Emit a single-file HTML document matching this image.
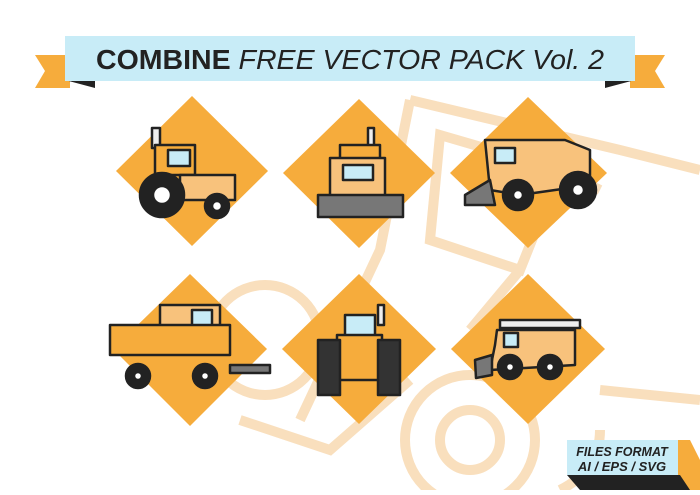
<!DOCTYPE html>
<html><head><style>
html,body{margin:0;padding:0;background:#fff;}
body{width:700px;height:490px;overflow:hidden;position:relative;font-family:"Liberation Sans",sans-serif;}
</style></head><body>
<svg width="700" height="490" viewBox="0 0 700 490" xmlns="http://www.w3.org/2000/svg">
<rect width="700" height="490" fill="#fff"/>
<g fill="none" stroke="#f9dfbd" stroke-width="10">
<path d="M410 100 L620 150 L700 170"/>
<path d="M410 100 L380 250 L300 420"/>
<path d="M440 135 L560 170 L520 270 L430 240 Z"/>
<path d="M560 170 L600 190"/>
<path d="M520 270 L470 330"/>
<path d="M240 420 L330 450 L410 380"/>
<path d="M600 390 L700 400"/>
<circle cx="265" cy="340" r="55"/>
<circle cx="470" cy="440" r="65"/>
<circle cx="470" cy="440" r="30"/>
<path d="M600 430 Q600 470 560 490"/>
</g>
<polygon points="35,55 70,55 70,88 35,88 45,71" fill="#f6ac3c"/>
<polygon points="665,55 630,55 630,88 665,88 655,71" fill="#f6ac3c"/>
<polygon points="65,80 95,80 95,88" fill="#222"/>
<polygon points="635,80 605,80 605,88" fill="#222"/>
<rect x="65" y="36" width="570" height="45" fill="#c8ecf7"/>
<text x="96" y="69" font-size="28" font-weight="bold" fill="#222" textLength="508" lengthAdjust="spacingAndGlyphs" font-family="Liberation Sans,sans-serif">COMBINE <tspan font-weight="normal" font-style="italic">FREE VECTOR PACK Vol. 2</tspan></text>
<g fill="#f6ac3c">
<polygon points="192,96 268,171 192,246 116,171"/>
<polygon points="359,99 435,173 359,248 283,173"/>
<polygon points="528,97 607,173 528,248 450,173"/>
<polygon points="190,274 267,349 190,426 113,349"/>
<polygon points="359,274 436,349 359,424 282,349"/>
<polygon points="528,274 605,349 528,424 451,349"/>
</g>
<g stroke="#222" stroke-width="2.5" stroke-linejoin="round">
<rect x="152" y="128" width="8" height="20" fill="#eee"/>
<rect x="155" y="145" width="40" height="30" fill="#f6ac3c"/>
<rect x="168" y="150" width="22" height="16" fill="#c8ecf7"/>
<rect x="180" y="175" width="55" height="25" fill="#f8c27c"/>
<circle cx="162" cy="195" r="22" fill="#222"/>
<circle cx="162" cy="195" r="9" fill="#fff"/>
<circle cx="217" cy="206" r="12" fill="#222"/>
<circle cx="217" cy="206" r="5" fill="#fff"/>
<rect x="368" y="128" width="6" height="20" fill="#eee"/>
<rect x="340" y="145" width="40" height="15" fill="#f6ac3c"/>
<rect x="330" y="158" width="55" height="40" fill="#f8c27c"/>
<rect x="343" y="165" width="30" height="15" fill="#c8ecf7"/>
<rect x="318" y="195" width="85" height="22" fill="#777"/>
<polygon points="485,140 565,140 590,150 590,185 520,195 490,190" fill="#f8c27c"/>
<rect x="495" y="148" width="20" height="15" fill="#c8ecf7"/>
<polygon points="465,195 490,180 495,205 465,205" fill="#777"/>
<circle cx="518" cy="195" r="15" fill="#222"/>
<circle cx="518" cy="195" r="5" fill="#fff"/>
<circle cx="578" cy="190" r="18" fill="#222"/>
<circle cx="578" cy="190" r="6" fill="#fff"/>
<rect x="160" y="305" width="60" height="35" fill="#f8c27c"/>
<rect x="192" y="310" width="20" height="18" fill="#c8ecf7"/>
<rect x="110" y="325" width="120" height="30" fill="#f6ac3c"/>
<rect x="230" y="365" width="40" height="8" fill="#777"/>
<circle cx="138" cy="376" r="12" fill="#222"/>
<circle cx="138" cy="376" r="4" fill="#fff"/>
<circle cx="205" cy="376" r="12" fill="#222"/>
<circle cx="205" cy="376" r="4" fill="#fff"/>
<rect x="378" y="305" width="6" height="20" fill="#eee"/>
<rect x="345" y="315" width="30" height="22" fill="#c8ecf7"/>
<rect x="337" y="335" width="45" height="45" fill="#f6ac3c"/>
<rect x="318" y="340" width="22" height="55" fill="#333"/>
<rect x="378" y="340" width="22" height="55" fill="#333"/>
<rect x="500" y="320" width="80" height="8" fill="#eee"/>
<polygon points="497,330 575,330 575,365 490,370 495,345" fill="#f8c27c"/>
<rect x="504" y="333" width="14" height="14" fill="#c8ecf7"/>
<polygon points="475,360 492,355 492,375 476,378" fill="#777"/>
<circle cx="510" cy="367" r="12" fill="#222"/>
<circle cx="510" cy="367" r="4" fill="#fff"/>
<circle cx="550" cy="367" r="12" fill="#222"/>
<circle cx="550" cy="367" r="4" fill="#fff"/>
</g>
<polygon points="670,440 690,440 700,460 700,490 680,490" fill="#f6ac3c"/>
<polygon points="567,475 680,475 690,490 580,490" fill="#222"/>
<rect x="567" y="440" width="111" height="35" fill="#c8ecf7"/>
<text x="622" y="456" font-size="12.5" font-style="italic" font-weight="bold" fill="#222" text-anchor="middle">FILES FORMAT</text>
<text x="622" y="471" font-size="13" font-style="italic" font-weight="bold" fill="#222" text-anchor="middle">AI / EPS / SVG</text>
</svg>
</body></html>
